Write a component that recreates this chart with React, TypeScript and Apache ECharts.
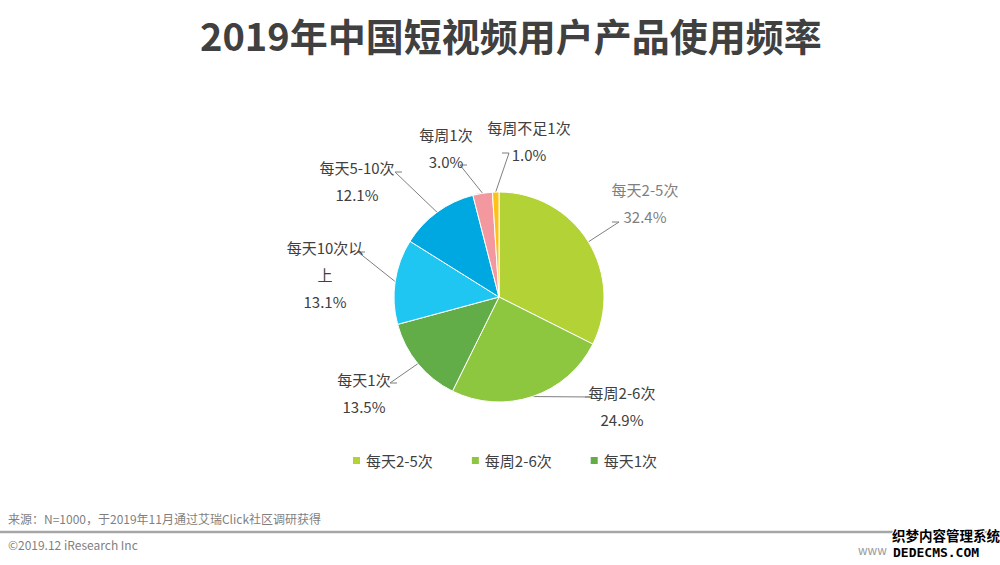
import React, { useEffect, useRef } from "react";
import * as echarts from "echarts";

const TITLE = "2019年中国短视频用户产品使用频率";
const categories = ["每天2-5次", "每周2-6次", "每天1次", "每天10次以上", "每天5-10次", "每周1次", "每周不足1次"];
const shares = [32.4, 24.9, 13.5, 13.1, 12.1, 3.0, 1.0];
const sliceColors = ["#b2d235", "#8dc63f", "#62ad47", "#1fc6f1", "#00a8e1", "#f3989e", "#fcc316"];
const legendItems = ["每天2-5次", "每周2-6次", "每天1次"];
const SOURCE = "来源：N=1000，于2019年11月通过艾瑞Click社区调研获得";
const COPYRIGHT = "©2019.12 iResearch Inc";

const FONT = '"Noto Sans CJK SC", "Noto Sans", sans-serif';
const CENTER = [499, 297];
const RADIUS = 105;
// label placement: [centerX, topY, line-end dx from centerX, line-end dy from topY]
const LABEL_LAYOUT = [
  [645, 176, -33, 46],
  [622, 379, -37, 18],
  [364, 366, 33, 17],
  [325, 234, 40, 18],
  [357, 154, 45, 18],
  [446, 121, 21, 44],
  [529, 114, -27, 39],
];

export default function App() {
  const ref = useRef<HTMLDivElement>(null);
  useEffect(() => {
    if (!ref.current) return;
    const chart = echarts.init(ref.current, null, { renderer: "svg" });
    const total = shares.reduce((a, b) => a + b, 0);
    const mids: number[] = [];
    let cum = 0;
    shares.forEach((v) => {
      mids.push(((cum + v / 2) / total) * Math.PI * 2);
      cum += v;
    });
    const data = categories.map((name, i) => ({
      name,
      value: shares[i],
      itemStyle: { color: sliceColors[i] },
      label: i === 0
        ? { color: "#7f7f7f" }
        : i === 3
        ? { width: 80, overflow: "break" }
        : {},
    }));
    chart.setOption({
      animation: false,
      title: {
        text: TITLE,
        left: 195,
        top: 10,
        textStyle: { fontSize: 38, fontWeight: "bold", color: "#404040", fontFamily: FONT },
      },
      legend: {
        data: legendItems,
        left: 346,
        top: 448,
        icon: "rect",
        itemWidth: 9,
        itemHeight: 9,
        itemGap: 37,
        textStyle: { fontSize: 15, color: "#404040", fontFamily: FONT },
      },
      series: [
        {
          type: "pie",
          center: CENTER,
          radius: RADIUS,
          startAngle: 90,
          clockwise: true,
          avoidLabelOverlap: false,
          itemStyle: { borderColor: "#ffffff", borderWidth: 1 },
          label: {
            show: true,
            formatter: (p: any) => `${p.name}\n${(+p.value).toFixed(1)}%`,
            fontSize: 15,
            lineHeight: 27,
            color: "#404040",
            fontFamily: FONT,
          },
          labelLine: { show: true, length: 10, length2: 10, lineStyle: { color: "#7f7f7f", width: 1 } },
          labelLayout: (params: any) => {
            const i = params.dataIndex;
            const [cx, top, adx, ady] = LABEL_LAYOUT[i];
            const th = mids[i];
            const p0 = [CENTER[0] + RADIUS * Math.sin(th), CENTER[1] - RADIUS * Math.cos(th)];
            const ax = cx + adx;
            const ay = top + ady;
            const ex = ax - Math.sign(adx) * 7;
            return {
              x: cx,
              y: top,
              align: "center",
              verticalAlign: "top",
              labelLinePoints: [p0, [ex, ay], [ax, ay]],
            };
          },
          data,
        },
      ],
      graphic: [
        { type: "text", left: 8, top: 512, style: { text: SOURCE, fontSize: 12, fill: "#7f7f7f", fontFamily: FONT } },
        { type: "line", shape: { x1: 0, y1: 532, x2: 995, y2: 532 }, style: { stroke: "#a6a6a6", lineWidth: 2.5 } },
        { type: "text", left: 8, top: 538, style: { text: COPYRIGHT, fontSize: 12, fill: "#7f7f7f", fontFamily: FONT } },
        { type: "text", left: 858, top: 543, style: { text: "www", fontSize: 12, fill: "#9a9a9a", fontFamily: FONT } },
        {
          type: "text", left: 891, top: 527,
          style: { text: "织梦内容管理系统", fontSize: 13.5, fontWeight: "bold", fill: "#000", stroke: "#fff", lineWidth: 2, fontFamily: FONT },
        },
        {
          type: "text", left: 892, top: 545,
          style: { text: "DEDECMS.COM", fontSize: 13, fontWeight: "bold", fill: "#000", stroke: "#fff", lineWidth: 2, fontFamily: '"DejaVu Sans Mono", monospace' },
        },
      ],
    });
    return () => chart.dispose();
  }, []);
  return <div ref={ref} style={{ position: "absolute", left: 0, top: 0, width: 1000, height: 565 }} />;
}
